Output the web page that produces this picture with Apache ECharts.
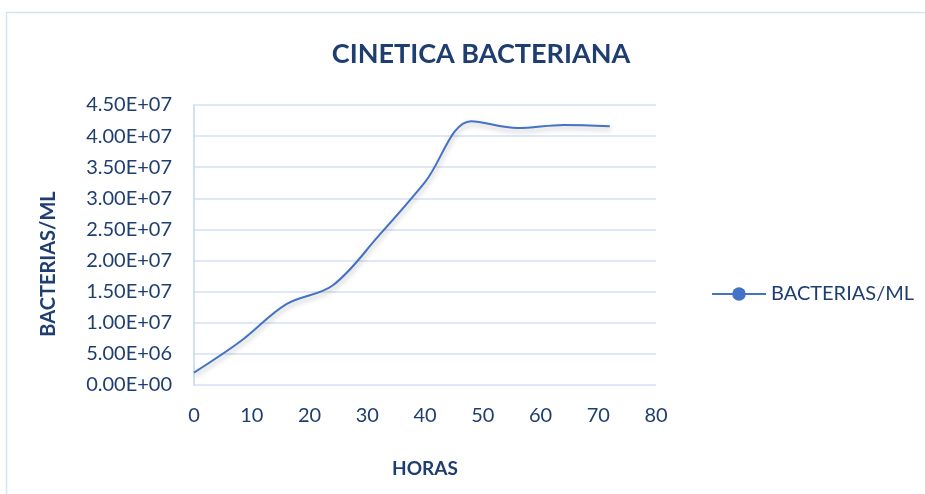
<!DOCTYPE html>
<html>
<head>
<meta charset="utf-8">
<script src="https://cdn.jsdelivr.net/npm/echarts@6/dist/echarts.min.js"></script>
<style>
html,body{margin:0;padding:0;background:#fff;}
#c{width:925px;height:494px;}
</style>
</head>
<body>
<div id="c"></div>
<script>
var hours = [0, 8, 16, 24, 32, 40, 48, 56, 64, 72];
var bacterias = [2.0e6, 7.0e6, 13.0e6, 16.0e6, 24.0e6, 32.6e6, 42.4e6, 41.3e6, 41.8e6, 41.6e6];
var seriesName = 'BACTERIAS/ML';
var titleText = 'CINETICA BACTERIANA';
var xTitle = 'HORAS';
var yTitle = 'BACTERIAS/ML';

var FONT = 'Lato';
var NAVY = '#1f3e70';

function sci(v) {
  var s = Number(v).toExponential(2);
  var parts = s.split('e');
  var exp = parseInt(parts[1], 10);
  var sign = exp < 0 ? '-' : '+';
  var e = Math.abs(exp);
  return parts[0] + 'E' + sign + (e < 10 ? '0' + e : '' + e);
}

var data = hours.map(function (h, i) { return [h, bacterias[i]]; });

var chart = echarts.init(document.getElementById('c'), null, {renderer: 'canvas'});
chart.setOption({
  animation: false,
  backgroundColor: '#ffffff',
  graphic: [{
    type: 'rect',
    shape: {x: 6.5, y: 12.5, width: 940, height: 500},
    style: {fill: 'none', stroke: '#d6e2f2', lineWidth: 1.5},
    silent: true
  }],
  title: {
    text: titleText,
    left: 476,
    top: 36,
    textAlign: 'center',
    textStyle: {fontFamily: FONT, fontWeight: 'bold', fontSize: 27, color: NAVY}
  },
  legend: {
    data: [seriesName],
    left: 706,
    top: 279,
    itemWidth: 54,
    itemHeight: 17,
    itemGap: 8,
    textStyle: {fontFamily: FONT, fontSize: 20, color: NAVY}
  },
  grid: {left: 194, right: 269, top: 105, bottom: 109, containLabel: false},
  xAxis: {
    type: 'value',
    min: 0, max: 80, interval: 10,
    name: xTitle,
    nameLocation: 'middle',
    nameGap: 74,
    nameTextStyle: {fontFamily: FONT, fontWeight: 'bold', fontSize: 19, color: NAVY},
    axisLine: {show: false},
    axisTick: {show: false},
    splitLine: {show: false},
    axisLabel: {fontFamily: FONT, fontSize: 20, color: NAVY, margin: 21}
  },
  yAxis: {
    type: 'value',
    min: 0, max: 4.5e7, interval: 5e6,
    name: yTitle,
    nameLocation: 'middle',
    nameRotate: 90,
    nameGap: 135,
    nameTextStyle: {fontFamily: FONT, fontWeight: 'bold', fontSize: 20, color: NAVY, padding: [0, 38, 0, 0]},
    axisLine: {show: true, lineStyle: {color: '#c5d6ee', width: 1.5}},
    axisTick: {show: false},
    splitLine: {show: true, lineStyle: {color: '#d5e1f3', width: 1.5}},
    axisLabel: {fontFamily: FONT, fontSize: 20, color: NAVY, margin: 22, formatter: sci}
  },
  series: [{
    name: seriesName,
    type: 'line',
    data: data,
    smooth: 0.35,
    symbol: 'circle',
    symbolSize: 14,
    showSymbol: false,
    itemStyle: {color: '#4472c4'},
    lineStyle: {color: '#4472c4', width: 2, shadowColor: 'rgba(0,0,0,0.25)', shadowBlur: 5, shadowOffsetY: 3, shadowOffsetX: 1}
  }]
});
</script>
</body>
</html>
